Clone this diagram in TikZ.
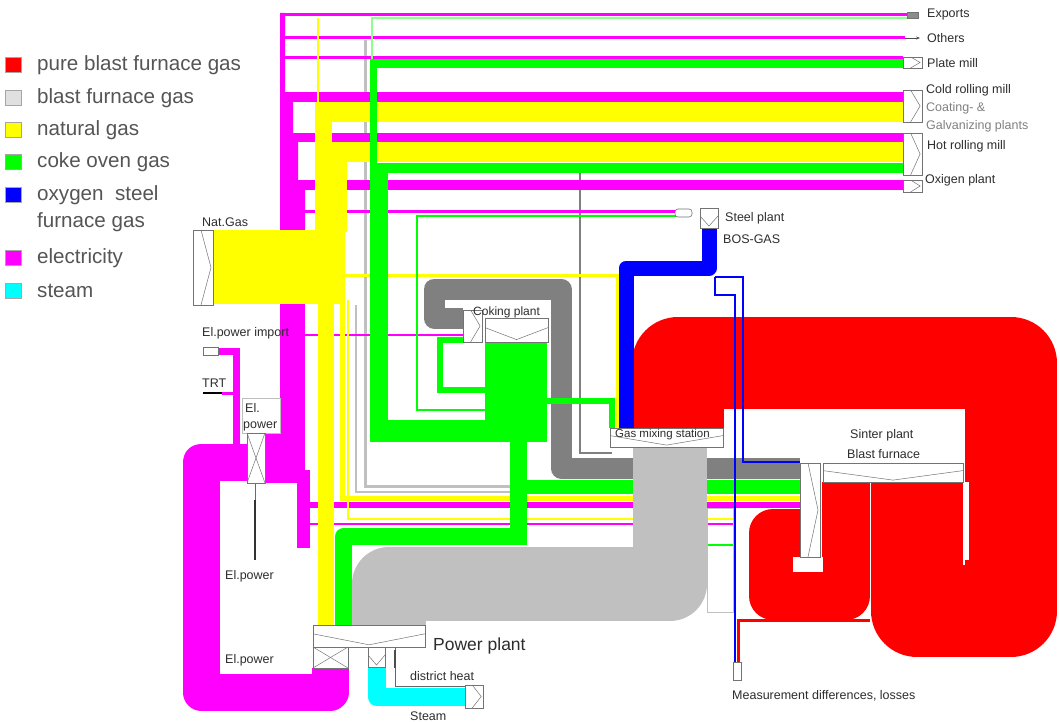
\documentclass[tikz,border=0pt]{standalone}
\usepackage{fontspec}
\setmainfont{Liberation Sans}
\usetikzlibrary{arrows.meta}
\definecolor{cRed}{RGB}{255,0,0}
\definecolor{cLG}{RGB}{192,192,192}
\definecolor{cDG}{RGB}{128,128,128}
\definecolor{cY}{RGB}{255,255,0}
\definecolor{cG}{RGB}{0,255,0}
\definecolor{cLGr}{RGB}{140,255,140}
\definecolor{cB}{RGB}{0,0,255}
\definecolor{cM}{RGB}{255,0,255}
\definecolor{cC}{RGB}{0,255,255}
\definecolor{txt}{RGB}{45,45,45}
\definecolor{legtxt}{RGB}{85,85,85}
\tikzset{
 boxst/.style={fill=white, draw=black!55, line width=0.6pt},
 chev/.style={draw=black!55, line width=0.5pt},
 lbl/.style={font=\fontsize{12.5}{14}\selectfont, text=txt, inner sep=0pt, anchor=west},
 leg/.style={font=\fontsize{20.6}{22}\selectfont, text=legtxt, inner sep=0pt, anchor=west},
 legsq/.style={draw=black!35, line width=0.6pt},
 band/.style={line join=round},
}
\newcommand{\cvV}[4]{\draw[boxst] (#1,#2) rectangle (#3,#4);
 \draw[chev] (#1,{#2+0.4*(#4-#2)}) -- ({(#1+#3)/2},{#4-0.1*(#4-#2)}) -- (#3,{#2+0.4*(#4-#2)});}
\newcommand{\cvR}[4]{\draw[boxst] (#1,#2) rectangle (#3,#4);
 \draw[chev] ({#1+0.4*(#3-#1)},#2) -- ({#3-0.1*(#3-#1)},{(#2+#4)/2}) -- ({#1+0.4*(#3-#1)},#4);}
\newcommand{\cvX}[4]{\draw[boxst] (#1,#2) rectangle (#3,#4);
 \draw[chev] (#1,#2) -- (#3,#4); \draw[chev] (#3,#2) -- (#1,#4);}
\begin{document}
\begin{tikzpicture}[x=1pt,y=-1pt]
\useasboundingbox[fill=white] (0,0) rectangle (1060,722);

% ---------- legend ----------
\draw[legsq, fill=cRed] (5,57.5) rectangle (21,72.5);
\draw[legsq, fill=black!12] (5,90) rectangle (21,105);
\draw[legsq, fill=cY] (5,122.5) rectangle (21,137.5);
\draw[legsq, fill=cG] (5,154.5) rectangle (21,169.5);
\draw[legsq, fill=cB] (5,187.5) rectangle (21,202.5);
\draw[legsq, fill=cM] (5,250.5) rectangle (21,265.5);
\draw[legsq, fill=cC] (5,283.5) rectangle (21,298.5);
\node[leg] (L1) at (37,65) {pure blast furnace gas};
\node[leg] (L2) at (37,98) {blast furnace gas};
\node[leg] (L3) at (37,130) {natural gas};
\node[leg] (L4) at (37,162) {coke oven gas};
\node[leg] (L5) at (37,195) {oxygen\ \ steel};
\node[leg] (L5b) at (37,222) {furnace gas};
\node[leg] (L6) at (37,258) {electricity};
\node[leg] (L7) at (37,291) {steam};

% ---------- thin light gray (BFG) lines ----------
\draw[cLG, line width=3] (365,40) -- (365,486) -- (510,486);
\draw[cLG, line width=2] (356,305) -- (356,492) -- (510,492);

% ---------- dark gray BFG band to coking plant ----------
\draw[band, cDG, line width=21] (800,468) -- (561,468) -- (561,289) -- (434,289) -- (434,318) -- (463,318);
\draw[cDG, line width=1.3] (580,173) -- (580,453) -- (612,453);

% ---------- electricity (magenta) ----------
\draw[cM, line width=3] (281,15) -- (907,15);
\draw[cM, line width=3] (283,38) -- (905,38);
\draw[cM, line width=3] (283,57.5) -- (903,57.5);
\fill[cM] (280,92) rectangle (903,102);
\fill[cM] (293,133) rectangle (903,142);
\fill[cM] (298,180) rectangle (903,190);
\fill[cM] (305,210.5) rectangle (677,213.5);
\fill[cM] (280,13) -- (285,13) -- (285,100) -- (293,100) -- (293,140) -- (298,140) -- (298,185) -- (305,185) -- (305,232) -- (280,232) -- cycle;
\fill[cM] (280,300) rectangle (305,473);
\fill[cM] (265,433) rectangle (305,483);
\fill[cM] (297,470) rectangle (310,548);
\draw[cM, line width=2] (305,335) -- (463,335);
\draw[cM, line width=6] (305,505) -- (800,505);
\draw[cM, line width=2] (305,524) -- (735,524);

% ---------- natural gas (yellow) ----------
\draw[cY, line width=2] (318,102) -- (318,18);
\fill[cY] (315,102) rectangle (903,122);
\fill[cY] (315,102) rectangle (332,143);
\fill[cY] (315,142) rectangle (903,162);
\fill[cY] (315,143) rectangle (347,232);
\fill[cY] (213,230) rectangle (345,304);
\fill[cY] (318,300) rectangle (334,625);
\draw[cY, line width=5] (342,300) -- (342,498) -- (800,498);
\draw[cY, line width=2] (348,300) -- (348,519) -- (735,519);
\draw[cY, line width=3] (345,275) -- (617,275) -- (617,428);

% ---------- coke oven gas (green) ----------
\draw[cLGr, line width=1.5] (372,60) -- (372,18) -- (907,18);
\draw[cG, line width=2] (540,410) -- (417,410) -- (417,216) -- (677,216);
\fill[cG] (370,59) rectangle (903,68);
\fill[cG] (370,59) rectangle (377,165);
\fill[cG] (370,163) rectangle (903,173);
\fill[cG] (370,163) rectangle (388,442);
\fill[cG] (370,420) rectangle (547,442);
\fill[cG] (485,342) rectangle (547,420);
\fill[cG] (510,420) rectangle (527,545);
\fill[cG] (527,480) rectangle (800,494);
\draw[band, cG, line width=17] (527,536.5) -- (343.5,536.5) -- (343.5,625);
\draw[cG, line width=6] (463,339.5) -- (440,339.5) -- (440,390) -- (485,390);
\draw[cG, line width=6] (547,401) -- (612,401) -- (612,428);
\draw[cG, line width=1.2] (707,545) -- (735,545);

% ---------- electricity loop from power plant ----------
\draw[band, cM, line width=37] (330,668) -- (330,692) -- (201,692) -- (201,462) -- (247,462);
\draw[cM, line width=7] (218,351) -- (236,351) -- (236,445);
\draw[black, line width=1.5] (203,393) -- (222,393);
\draw[cM, line width=3] (222,393) -- (236,393);
\draw[cM, line width=1] (255,483) -- (255,500);
\draw[black!80, line width=2.2] (255,500) -- (255,560);

% ---------- blast furnace gas (light gray) to power plant ----------
\draw[band, cLG, line width=74] (670,447) -- (670,584) -- (389,584) -- (389,625);
\draw[cLG, line width=1] (707,508) rectangle (733,612);

% ---------- pure blast furnace gas (red) ----------
\draw[band, cRed, line width=92] (917,482) -- (917,611) -- (1011,611) -- (1011,363) -- (678,363) -- (678,428);
\fill[white] (963,482) rectangle (969,560);
\draw[band, cRed, line width=48] (846,482) -- (846,596) -- (773,596) -- (773,533) -- (800,533);
\draw[cRed, line width=3] (870,620) -- (738,620) -- (738,662);

% ---------- oxygen steel furnace gas (blue) ----------
\draw[band, cB, line width=15] (709,228) -- (709,268) -- (626,268) -- (626,428);
\draw[cB, line width=1.2] (715,277) -- (743,277) -- (743,462) -- (800,462);
\draw[cB, line width=1.2] (715,277) -- (715,295) -- (735,295) -- (735,662);

% ---------- steam (cyan) and district heat ----------
\draw[band, cC, line width=18] (376.5,667) -- (376.5,697) -- (465,697);
\draw[black!60, line width=1] (395,647) -- (395,686) -- (465,686);
\draw[black!70, line width=2] (395,650) -- (395,668);

% ---------- converter boxes ----------
\cvV{313}{625}{425}{647}
\cvX{313}{647}{348}{668}
\cvV{368}{647}{385}{667}
\cvR{465}{685}{483}{708}
\cvV{610}{428}{723}{447}
\cvV{485}{318}{548}{342}
\cvR{463}{310}{482}{342}
\cvV{823}{463}{963}{482}
\fill[white] (793,557) rectangle (823,572);
\cvR{800}{463}{820}{557}
\cvV{700}{208}{718}{228}
\draw[boxst, rounded corners=3] (675,209) rectangle (692,217);
\cvR{193}{230}{213}{305}
\draw[boxst] (203,347) rectangle (218,355);
\draw[boxst, draw=black!25] (242,398) rectangle (280,433);
\cvX{247}{433}{265}{483}
\draw[boxst, fill=black!45] (907,12) rectangle (918,18);
\draw[-{Stealth[length=4pt,width=3pt]}, black!70, line width=0.8] (905,38) -- (920,38);
\cvR{903}{57}{922}{68}
\cvR{903}{90}{922}{122}
\cvR{903}{133}{922}{175}
\cvR{903}{180}{922}{192}
\draw[boxst] (733,662) rectangle (741,680);

% ---------- labels ----------
\node[lbl] (tExp) at (927,14) {Exports};
\node[lbl] (tOth) at (927,38) {Others};
\node[lbl] (tPlate) at (927,63) {Plate mill};
\node[lbl] (tCold) at (926,90) {Cold rolling mill};
\node[lbl, text=black!50] (tCoat) at (926,108) {Coating- \&};
\node[lbl, text=black!50] (tGalv) at (926,126) {Galvanizing plants};
\node[lbl] (tHot) at (927,146) {Hot rolling mill};
\node[lbl] (tOxi) at (925,180) {Oxigen plant};
\node[lbl] (tSteel) at (725,218) {Steel plant};
\node[lbl] (tBOS) at (723,239) {BOS-GAS};
\node[lbl] (tNat) at (202,222) {Nat.Gas};
\node[lbl] (tImp) at (202,333) {El.power import};
\node[lbl] (tTRT) at (202,383) {TRT};
\node[lbl] (tEl1) at (245,408) {El.};
\node[lbl] (tEl2) at (243,426) {power};
\node[lbl] (tElp1) at (225,576) {El.power};
\node[lbl] (tElp2) at (225,660) {El.power};
\node[lbl, font=\fontsize{17.5}{20}\selectfont] (tPP) at (433,646) {Power plant};
\node[lbl] (tDH) at (410,676) {district heat};
\node[lbl] (tSteam) at (410,716) {Steam};
\node[lbl, font=\fontsize{12}{14}\selectfont] (tCok) at (473,312) {Coking plant};
\node[lbl, font=\fontsize{11.5}{13}\selectfont] (tGMS) at (615,435) {Gas mixing station};
\node[lbl] (tSin) at (850,435) {Sinter plant};
\node[lbl] (tBF) at (847,454) {Blast furnace};
\node[lbl] (tLoss) at (732,696) {Measurement differences, losses};
\end{tikzpicture}
\end{document}
